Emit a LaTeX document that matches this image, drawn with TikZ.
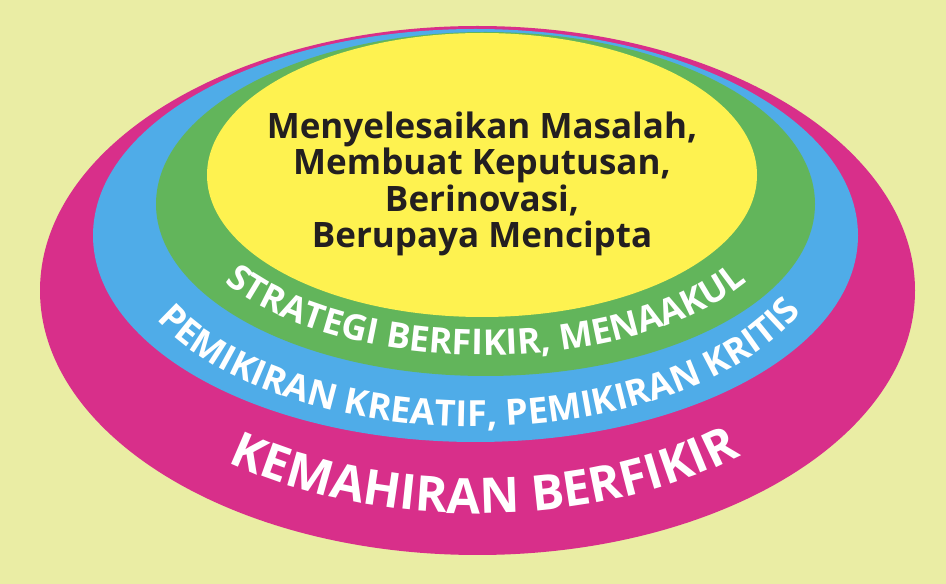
\documentclass[tikz,border=0pt]{standalone}
\usepackage{fontspec}
\setmainfont{Open Sans}
\usetikzlibrary{decorations.text,shapes.geometric}
\definecolor{bgc}{HTML}{EAEDA4}
\definecolor{magc}{HTML}{D82F8A}
\definecolor{bluc}{HTML}{4FACE8}
\definecolor{grnc}{HTML}{62B55B}
\definecolor{yelc}{HTML}{FEF250}
\definecolor{inkc}{HTML}{231F20}
\tikzset{
  layer/.style={ellipse, inner sep=0pt, draw=none},
  arctext/.style={decorate, decoration={text along path, text align=center, text={#1}}}
}
\begin{document}
\begin{tikzpicture}[x=1pt,y=1pt]
\useasboundingbox (0,0) rectangle (946,584);
\fill[bgc] (0,0) rectangle (946,584);
\node[layer, fill=magc, minimum width=875pt, minimum height=529pt] (outer) at (477.5,293.5) {};
\node[layer, fill=bluc, minimum width=765pt, minimum height=413pt] (second) at (475.5,348.5) {};
\node[layer, fill=grnc, minimum width=659pt, minimum height=344pt] (third) at (485.5,380) {};
\node[layer, fill=yelc, minimum width=550pt, minimum height=284pt] (core) at (482,409) {};
\node[inner sep=0pt, align=center, text=inkc, font=\bfseries\fontsize{35}{36.5}\selectfont] (coretext) at (482,400)
  {Menyelesaikan Masalah,\\Membuat Keputusan,\\Berinovasi,\\Berupaya Mencipta};
\path[arctext={|\color{white}\bfseries\fontsize{35.5}{35.5}\selectfont|STRATEGI BERFIKIR, MENAAKUL}]
  ([shift={(485.5,380)}]185:305pt and 151pt) arc[start angle=185, end angle=355.5, x radius=305pt, y radius=151pt];
\path[arctext={|\color{white}\bfseries\fontsize{36}{36}\selectfont|PEMIKIRAN KREATIF, PEMIKIRAN KRITIS}]
  ([shift={(475.5,348.5)}]186:355pt and 191pt) arc[start angle=186, end angle=357, x radius=355pt, y radius=191pt];
\path[arctext={|\color{white}\bfseries\fontsize{49}{49}\selectfont|KEMAHIRAN BERFIKIR}]
  ([shift={(477.5,293.5)}]186:390pt and 223pt) arc[start angle=186, end angle=358, x radius=390pt, y radius=223pt];
\end{tikzpicture}
\end{document}
